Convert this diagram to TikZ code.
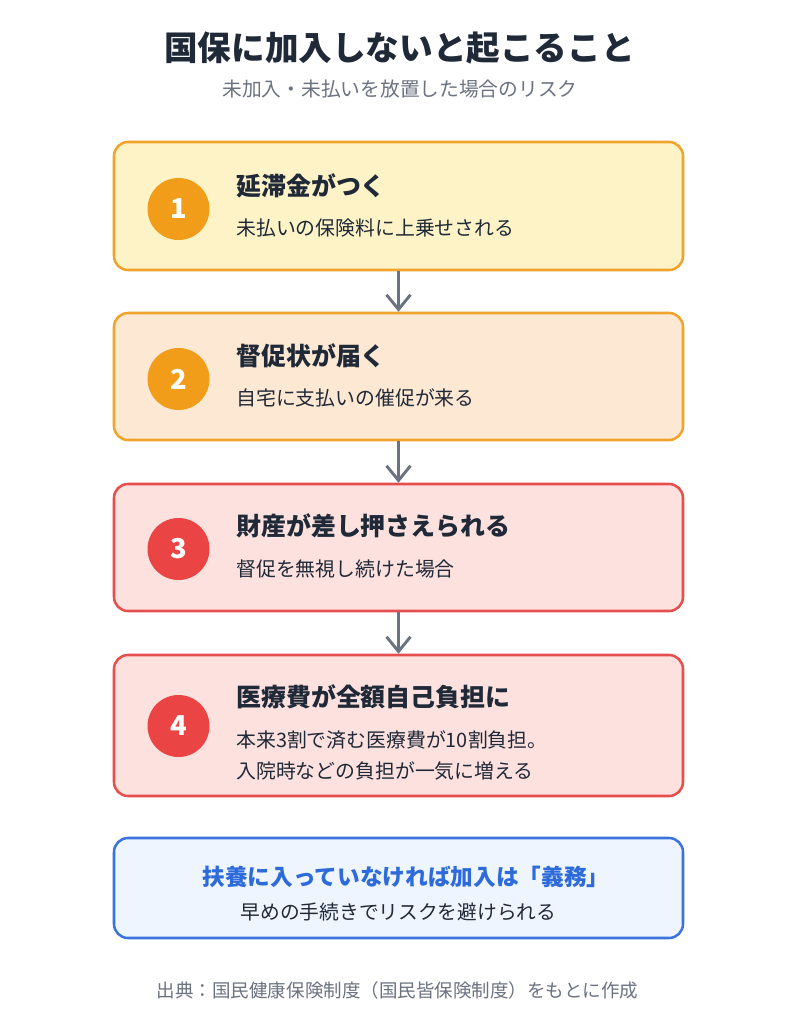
\documentclass[tikz,border=0pt]{standalone}
\usepackage{fontspec}
\setmainfont{Noto Sans CJK JP}
\usetikzlibrary{arrows.meta}

\definecolor{inkdark}{HTML}{1F2937}
\definecolor{inkgray}{HTML}{6B7280}
\definecolor{amberfill}{HTML}{FEF3C7}
\definecolor{orangefill}{HTML}{FDE8D4}
\definecolor{amberline}{HTML}{F0A42E}
\definecolor{ambercircle}{HTML}{F29D1A}
\definecolor{redfill}{HTML}{FDE1DF}
\definecolor{redline}{HTML}{E5504E}
\definecolor{redcircle}{HTML}{EB4444}
\definecolor{bluefill}{HTML}{EEF5FE}
\definecolor{blueline}{HTML}{3A74DC}
\definecolor{bluetext}{HTML}{2E6BDA}

\tikzset{
  stepbox/.style={draw, rounded corners=10.5pt, line width=1.9pt,
    minimum width=426.75pt, inner sep=0pt},
  numdot/.style={circle, minimum size=46.5pt, inner sep=0pt, text=white,
    font=\fontsize{20.5}{24}\selectfont\bfseries},
  headtext/.style={anchor=west, inner sep=0pt, text=inkdark,
    font=\fontsize{18.7}{22}\selectfont\bfseries},
  desctext/.style={anchor=west, inner sep=0pt, text=inkdark,
    font=\fontsize{14.9}{17}\selectfont},
  flowarrow/.style={draw=inkgray, line width=2.2pt,
    -{Straight Barb[length=11pt,width=18pt,line width=2.2pt]}}
}

\begin{document}
\begin{tikzpicture}[x=0.75pt,y=-0.75pt]
  \useasboundingbox[fill=white] (0,0) rectangle (797,1024);

  % title
  \node[text=inkdark, font=\fontsize{25.2}{30}\selectfont\bfseries] (title) at (399.5,48) {国保に加入しないと起こること};
  \node[text=inkgray, font=\fontsize{14.8}{18}\selectfont] (subtitle) at (400,89) {未加入・未払いを放置した場合のリスク};

  % step 1
  \node[stepbox, fill=amberfill, draw=amberline, minimum height=96pt] (step1) at (398.5,206) {};
  \node[numdot, fill=ambercircle] (num1) at (178.5,209) {1};
  \node[headtext] (head1) at (236,186) {延滞金がつく};
  \node[desctext] (desc1) at (236,228) {未払いの保険料に上乗せされる};

  % step 2
  \node[stepbox, fill=orangefill, draw=amberline, minimum height=95.25pt] (step2) at (398.5,376.5) {};
  \node[numdot, fill=ambercircle] (num2) at (178.5,379) {2};
  \node[headtext] (head2) at (236,356) {督促状が届く};
  \node[desctext] (desc2) at (236,398) {自宅に支払いの催促が来る};

  % step 3
  \node[stepbox, fill=redfill, draw=redline, minimum height=95.25pt] (step3) at (398.5,547.5) {};
  \node[numdot, fill=redcircle] (num3) at (178.5,549) {3};
  \node[headtext] (head3) at (236,526) {財産が差し押さえられる};
  \node[desctext] (desc3) at (236,569) {督促を無視し続けた場合};

  % step 4
  \node[stepbox, fill=redfill, draw=redline, minimum height=105.75pt] (step4) at (398.5,725.5) {};
  \node[numdot, fill=redcircle] (num4) at (178.5,726) {4};
  \node[headtext] (head4) at (236,697) {医療費が全額自己負担に};
  \node[desctext] (desc4a) at (236,740) {本来3割で済む医療費が10割負担。};
  \node[desctext] (desc4b) at (236,771) {入院時などの負担が一気に増える};

  % arrows
  \draw[flowarrow] (step1) -- (step2);
  \draw[flowarrow] (step2) -- (step3);
  \draw[flowarrow] (step3) -- (step4);

  % note
  \node[stepbox, fill=bluefill, draw=blueline, minimum height=75pt] (note) at (398.5,888) {};
  \node[text=bluetext, font=\fontsize{17}{20}\selectfont\bfseries] (notehead) at (406,877) {扶養に入っていなければ加入は「義務」};
  \node[text=inkdark, font=\fontsize{14.8}{18}\selectfont] (notedesc) at (398.5,912) {早めの手続きでリスクを避けられる};

  % source
  \node[text=inkgray, font=\fontsize{13.9}{17}\selectfont] (source) at (397.5,990) {出典：国民健康保険制度（国民皆保険制度）をもとに作成};
\end{tikzpicture}
\end{document}
